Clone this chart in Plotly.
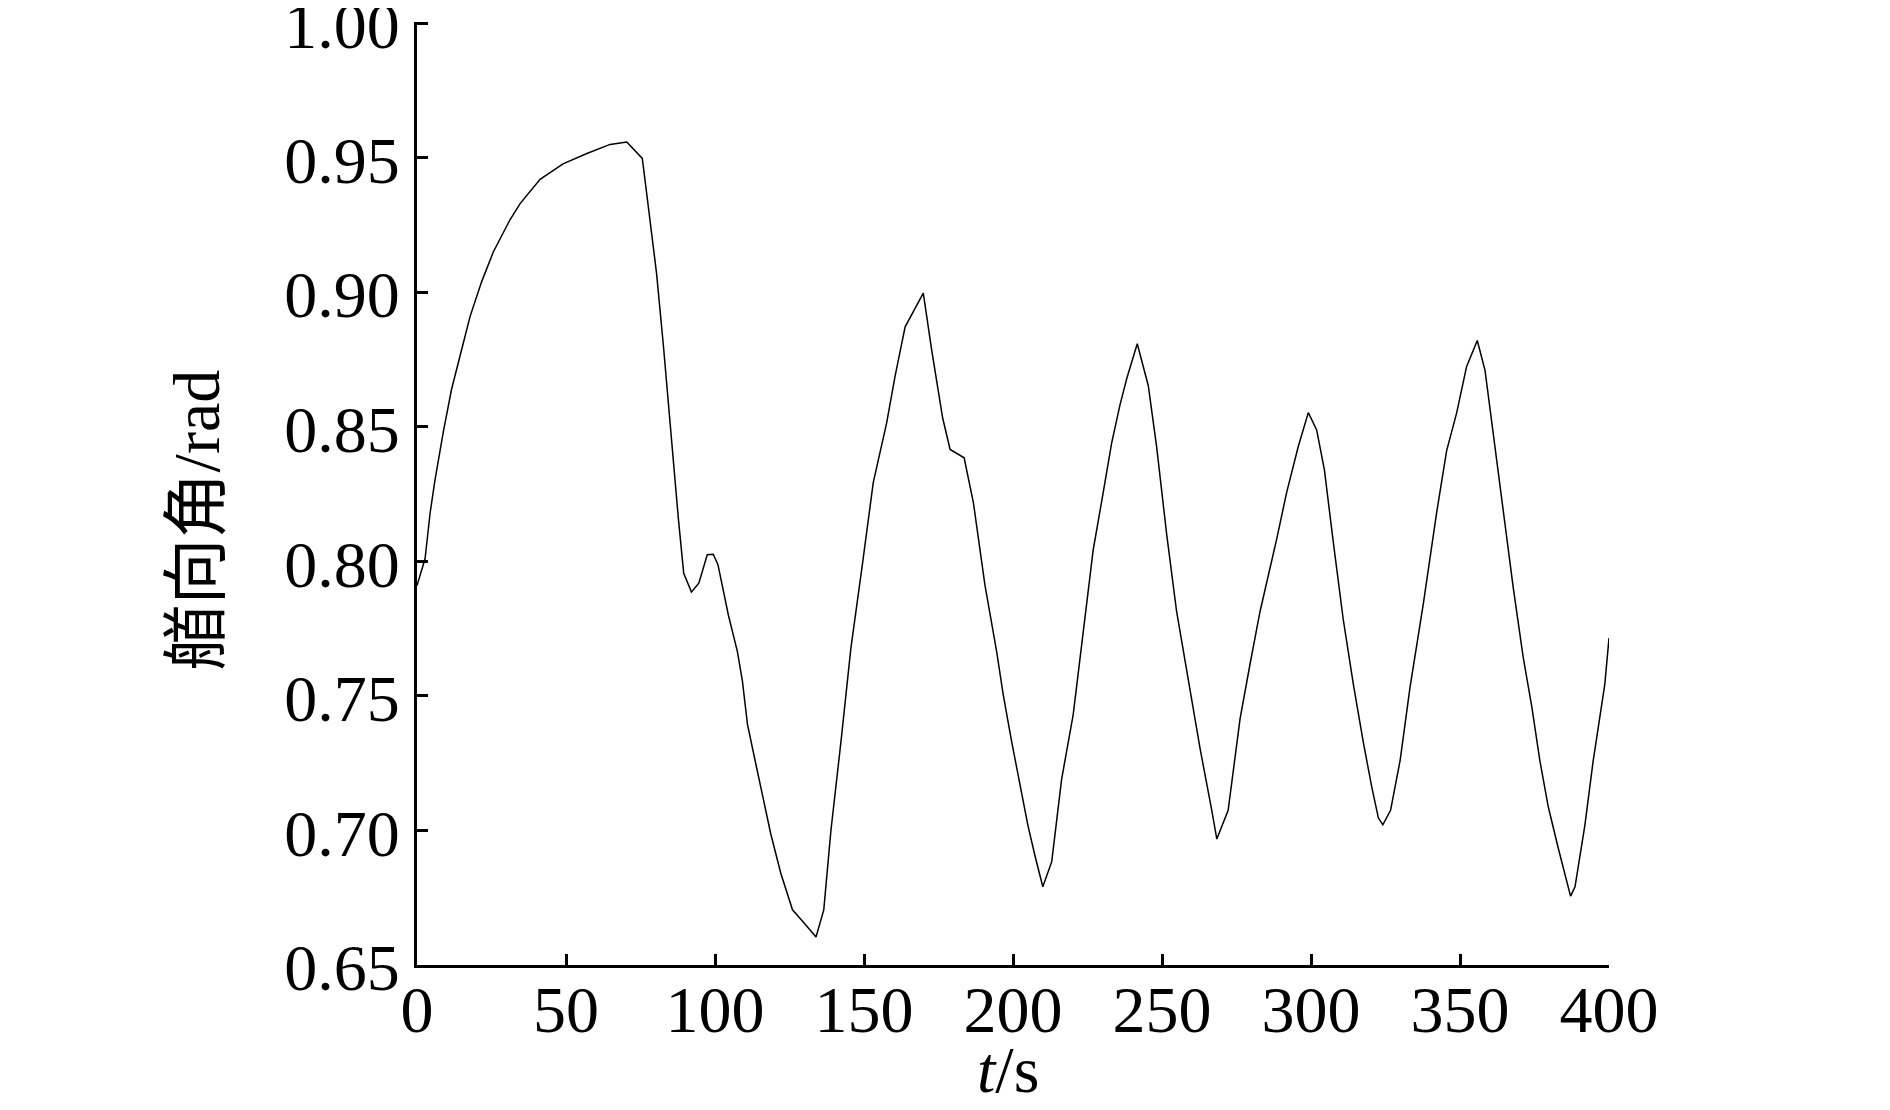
import plotly.graph_objects as go

# time (s) and heading angle (rad)
t = [0, 2.7, 4.4, 6, 8.8, 11.6, 15.5, 17.8, 21.7, 25.6, 31.2, 34.6, 41.3, 49, 57,
     64.8, 70.4, 75.6, 77.1, 80.4, 82.7, 85.5, 87.7, 89.5, 92.1, 94.6, 97.4, 99.4,
     101, 104.5, 107.5, 109.2, 110.9, 113.7, 118.7, 122.1, 126, 129.9, 133.9, 136.5,
     138.9, 142.3, 145.6, 149.6, 153.1, 157.6, 160.4, 163.8, 169.9, 172.7, 176.4,
     178.9, 183.6, 186.7, 190.6, 194.5, 196.7, 199.5, 202.8, 205, 207.4, 210, 213,
     216.3, 220.2, 223, 226.9, 229.8, 233.1, 235.9, 238.2, 241.7, 245.4, 248.2,
     251.6, 254.9, 258.3, 262.8, 266.7, 268.4, 272.2, 276.2, 279.5, 282.9, 288.5,
     291.8, 295.7, 299.1, 301.9, 304.5, 307.5, 310.8, 314.2, 317.5, 320.4, 322.6,
     324.1, 326.7, 329.9, 333.2, 337.7, 342.2, 345.5, 348.9, 352.2, 355.8, 358.4,
     361.2, 364.5, 367.9, 371.2, 374.1, 376.8, 379.6, 383, 385.8, 387.1, 388.6,
     391.9, 394.7, 397.5, 398.6, 400]
heading = [0.791, 0.801, 0.818, 0.830, 0.848, 0.864, 0.881, 0.891, 0.904, 0.915,
           0.927, 0.933, 0.942, 0.9478, 0.9516, 0.955, 0.9559, 0.9498, 0.9365, 0.907,
           0.880, 0.843, 0.816, 0.7956, 0.7886, 0.792, 0.8025, 0.8027, 0.7988, 0.780,
           0.7666, 0.7555, 0.7394, 0.7247, 0.6988, 0.684, 0.6705, 0.6656, 0.6604,
           0.6705, 0.700, 0.7333, 0.7678, 0.800, 0.8293, 0.8515, 0.8687, 0.8872,
           0.8997, 0.8786, 0.8533, 0.8416, 0.8385, 0.8219, 0.7911, 0.7666, 0.7506,
           0.7333, 0.7149, 0.7019, 0.6905, 0.6791, 0.6884, 0.7189, 0.7431, 0.7686,
           0.8042, 0.8226, 0.844, 0.8582, 0.8681, 0.8809, 0.8653, 0.8426, 0.8098,
           0.7814, 0.7587, 0.7303, 0.7075, 0.6968, 0.7075, 0.7416, 0.7616, 0.7814,
           0.8084, 0.8255, 0.8426, 0.8553, 0.8489, 0.834, 0.807, 0.7786, 0.7544,
           0.7331, 0.7161, 0.7047, 0.7021, 0.7075, 0.726, 0.753, 0.7843, 0.8184,
           0.8411, 0.8553, 0.8724, 0.8821, 0.871, 0.8468, 0.8184, 0.79, 0.7644,
           0.7459, 0.726, 0.7089, 0.6933, 0.6805, 0.6756, 0.6791, 0.7019, 0.726,
           0.7473, 0.7544, 0.7715]

x_ticks = [0, 50, 100, 150, 200, 250, 300, 350, 400]
y_ticks = [0.65, 0.70, 0.75, 0.80, 0.85, 0.90, 0.95, 1.00]

font = "Liberation Serif, Times New Roman, Noto Sans CJK SC"

fig = go.Figure()
fig.add_trace(go.Scatter(x=t, y=heading, mode="lines",
                         line=dict(color="black", width=1.5),
                         showlegend=False))

# page body has an 8px default margin, so the figure is sized to fit inside it
fig.update_layout(
    width=1874, height=1094,
    margin=dict(l=409, r=273, t=14, b=137),
    paper_bgcolor="white", plot_bgcolor="white",
    font=dict(family=font, size=66, color="black"),
    xaxis=dict(range=[0, 400], tickvals=x_ticks, ticktext=[str(v) for v in x_ticks],
               showgrid=False, zeroline=False, showline=True, linecolor="black",
               linewidth=3, ticks="inside", ticklen=11, tickwidth=3,
               tickcolor="black", ticklabelstandoff=-15, automargin=False,
               ticklabeloverflow="allow"),
    yaxis=dict(range=[0.65, 1.0005], tickvals=y_ticks,
               ticktext=[f"{v:.2f}" for v in y_ticks],
               showgrid=False, zeroline=False, showline=True, linecolor="black",
               linewidth=3, ticks="inside", ticklen=11, tickwidth=3,
               tickcolor="black", ticklabelstandoff=1, ticklabelshift=2,
               automargin=False, ticklabeloverflow="allow"),
    annotations=[
        dict(text="艏向角/rad", textangle=-90, xref="paper", yref="paper",
             x=-0.185, y=0.472, xanchor="center", yanchor="middle",
             showarrow=False, font=dict(family=font, size=66)),
        dict(text="<i>t</i>/s", xref="paper", yref="paper",
             x=0.496, y=-0.111, xanchor="center", yanchor="middle",
             showarrow=False, font=dict(family=font, size=66)),
    ],
)

fig.write_html("out.html")
